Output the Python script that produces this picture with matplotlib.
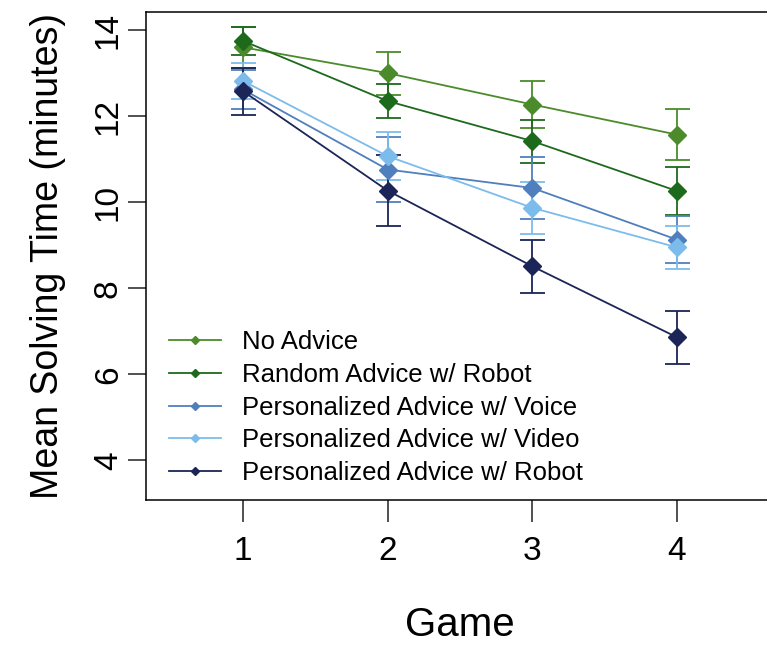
import matplotlib
matplotlib.use("Agg")
import matplotlib.pyplot as plt
from matplotlib.lines import Line2D

plt.rcParams['font.family'] = ['Liberation Sans', 'DejaVu Sans']

games = [1, 2, 3, 4]
labels = ['No Advice', 'Random Advice w/ Robot', 'Personalized Advice w/ Voice',
          'Personalized Advice w/ Video', 'Personalized Advice w/ Robot']
no_advice = [13.60, 13.00, 12.27, 11.57]
no_advice_err = [0.48, 0.50, 0.55, 0.60]
random_robot = [13.75, 12.35, 11.42, 10.26]
random_robot_err = [0.33, 0.40, 0.50, 0.55]
pers_voice = [12.62, 10.76, 10.33, 9.13]
pers_voice_err = [0.45, 0.75, 0.72, 0.55]
pers_video = [12.82, 11.07, 9.87, 8.95]
pers_video_err = [0.42, 0.56, 0.60, 0.50]
pers_robot = [12.58, 10.27, 8.51, 6.86]
pers_robot_err = [0.55, 0.83, 0.62, 0.61]

colors = ['#4b8b2b', '#1d6a1d', '#4f7fbd', '#7cbcec', '#1b2557']
series = [(no_advice, no_advice_err), (random_robot, random_robot_err),
          (pers_voice, pers_voice_err), (pers_video, pers_video_err),
          (pers_robot, pers_robot_err)]

fig = plt.figure(figsize=(7.67, 6.47), dpi=100)
ax = fig.add_axes([146 / 767, 1 - 500 / 647, (774 - 146) / 767, 488 / 647])

for (vals, errs), c in zip(series, colors):
    ax.errorbar(games, vals, yerr=errs, color=c, lw=1.3, marker='D',
                markersize=9, capsize=9, capthick=1.3, elinewidth=1.3)

ax.set_xlim(0.33, 4.67)
ax.set_ylim(3.08, 14.42)
ax.set_xticks(games)
ax.set_yticks([4, 6, 8, 10, 12, 14])
ax.spines['right'].set_visible(False)
for s in ['left', 'top', 'bottom']:
    ax.spines[s].set_linewidth(1.1)
ax.tick_params(axis='both', width=1.1, labelsize=24, color='#222222')
ax.tick_params(axis='x', length=16, pad=10)
ax.tick_params(axis='y', length=13, pad=3)
for t in ax.get_yticklabels():
    t.set_rotation(90)
    t.set_va('center')

ax.set_xlabel('Game', fontsize=29, labelpad=28)
ax.set_ylabel('Mean Solving Time (minutes)', fontsize=27, labelpad=19)

handles = [Line2D([], [], color=c, lw=1.3, marker='D', markersize=4) for c in colors]
ax.legend(handles, labels, loc='lower left', bbox_to_anchor=(0.0, -0.017),
          frameon=False, fontsize=18.5, handlelength=2.0, handletextpad=0.85,
          labelspacing=0.34, borderpad=0.4)

fig.savefig('out.png', dpi=100)
